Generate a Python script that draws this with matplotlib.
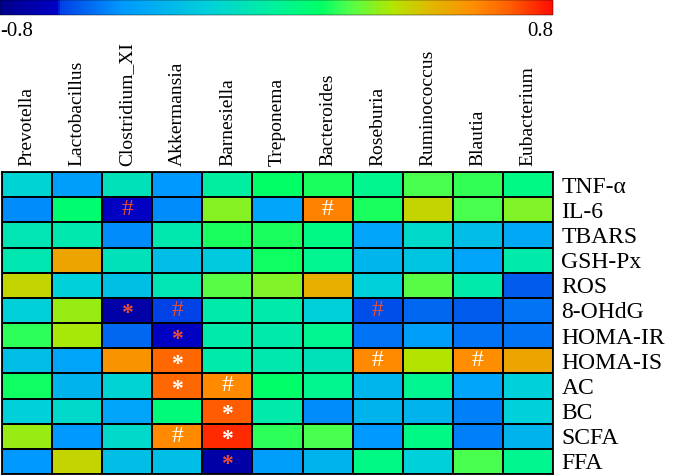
import matplotlib
matplotlib.use("Agg")
import matplotlib.pyplot as plt
import numpy as np
from matplotlib.colors import LinearSegmentedColormap

plt.rcParams['font.family'] = ['Liberation Serif', 'DejaVu Serif']

# bakterier (kolonner) og parametere (rader)
bakterier = ["Prevotella", "Lactobacillus", "Clostridium_XI", "Akkermansia", "Barnesiella",
             "Treponema", "Bacteroides", "Roseburia", "Ruminococcus", "Blautia", "Eubacterium"]
parametere = ["TNF-α", "IL-6", "TBARS", "GSH-Px", "ROS", "8-OHdG", "HOMA-IR",
              "HOMA-IS", "AC", "BC", "SCFA", "FFA"]

# korrelasjoner lest av bildet
r_tnf = [-0.18, -0.42, -0.10, -0.45, -0.02, 0.13, 0.15, 0.03, 0.20, 0.18, 0.05]
r_il6 = [-0.47, 0.10, -0.64, -0.47, 0.28, -0.40, 0.60, 0.15, 0.38, 0.20, 0.27]
r_tbars = [-0.08, -0.06, -0.47, -0.06, 0.15, 0.15, 0.05, -0.40, -0.15, -0.28, -0.38]
r_gsh = [-0.07, 0.50, -0.10, -0.28, -0.22, 0.14, 0.02, -0.32, -0.25, -0.40, -0.05]
r_ros = [0.38, -0.20, -0.27, -0.08, 0.22, 0.27, 0.47, -0.20, 0.22, -0.05, -0.57]
r_ohdg = [-0.20, 0.30, -0.72, -0.62, -0.05, -0.05, -0.20, -0.60, -0.55, -0.57, -0.52]
r_homa_ir = [0.17, 0.32, -0.55, -0.64, -0.05, -0.05, 0.02, -0.52, -0.42, -0.52, -0.52]
r_homa_is = [-0.28, -0.40, 0.55, 0.65, -0.05, -0.06, -0.10, 0.58, 0.34, 0.57, 0.50]
r_ac = [0.14, -0.33, -0.18, 0.65, 0.58, 0.12, 0.03, -0.32, 0.02, -0.40, -0.20]
r_bc = [-0.20, -0.15, -0.40, 0.08, 0.68, -0.05, -0.47, -0.33, -0.33, -0.50, -0.20]
r_scfa = [0.30, -0.45, -0.15, 0.58, 0.75, 0.17, 0.20, -0.45, 0.05, -0.50, -0.33]
r_ffa = [-0.45, 0.38, -0.28, -0.28, -0.72, -0.42, -0.33, 0.05, -0.20, 0.20, 0.03]

verdier = np.array([r_tnf, r_il6, r_tbars, r_gsh, r_ros, r_ohdg, r_homa_ir,
                    r_homa_is, r_ac, r_bc, r_scfa, r_ffa])

# signifikans-merker: (rad, kolonne, tegn, farge)
merker = [
    (1, 2, "#", "r"), (1, 6, "#", "w"),
    (5, 2, "*", "r"), (5, 3, "#", "r"), (5, 7, "#", "r"),
    (6, 3, "*", "r"),
    (7, 3, "*", "w"), (7, 7, "#", "w"), (7, 9, "#", "w"),
    (8, 3, "*", "w"), (8, 4, "#", "w"),
    (9, 4, "*", "w"),
    (10, 3, "#", "w"), (10, 4, "*", "w"),
    (11, 4, "*", "r"),
]

farger = [
    (0.0, (0.0, 0.0, 0.55)),
    (0.105, (0.0, 0.0, 0.78)),
    (0.107, (0.0, 0.25, 0.9)),
    (0.22, (0.0, 0.6, 1.0)),
    (0.38, (0.0, 0.82, 0.85)),
    (0.50, (0.0, 0.95, 0.6)),
    (0.58, (0.0, 1.0, 0.4)),
    (0.63, (0.3, 1.0, 0.3)),
    (0.71, (0.7, 0.9, 0.0)),
    (0.78, (0.88, 0.72, 0.0)),
    (0.86, (1.0, 0.55, 0.0)),
    (0.92, (1.0, 0.38, 0.0)),
    (1.0, (1.0, 0.05, 0.0)),
]
cmap = LinearSegmentedColormap.from_list("varme", farger)

fig = plt.figure(figsize=(6.8, 4.75), dpi=100)
ax = fig.add_axes([2 / 680, 1 / 475, 551 / 680, 302 / 475])
cax = fig.add_axes([0, 460 / 475, 553 / 680, 15 / 475])

mesh = ax.pcolormesh(verdier, cmap=cmap, vmin=-0.8, vmax=0.8, edgecolors="black", linewidth=1.3)
ax.set_xlim(0, len(bakterier))
ax.set_ylim(len(parametere), 0)
ax.xaxis.tick_top()
ax.set_xticks(np.arange(len(bakterier)) + 0.5)
ax.set_xticklabels(bakterier, rotation=90, fontsize=14)
ax.yaxis.tick_right()
ax.set_yticks(np.arange(len(parametere)) + 0.5)
ax.set_yticklabels(parametere, fontsize=17)
ax.tick_params(axis="x", length=0, pad=4)
ax.tick_params(axis="y", length=0, pad=6)
for s in ax.spines.values():
    s.set_linewidth(1.3)

rod = (0.93, 0.3, 0.2)
for rad, kol, tegn, f in merker:
    c = "white" if f == "w" else rod
    if tegn == "*":
        ax.text(kol + 0.5, rad + 0.64, tegn, ha="center", va="center", fontsize=17,
                fontweight="bold", color=c)
    else:
        ax.text(kol + 0.5, rad + 0.5, tegn, ha="center", va="center", fontsize=17, color=c)

cbar = fig.colorbar(mesh, cax=cax, orientation="horizontal")
cbar.set_ticks([])
cbar.outline.set_linewidth(0.3)
cax.text(0, -0.5, "-0.8", transform=cax.transAxes, ha="left", va="top", fontsize=15)
cax.text(1, -0.5, "0.8", transform=cax.transAxes, ha="right", va="top", fontsize=15)

plt.savefig("out.png", dpi=100)
